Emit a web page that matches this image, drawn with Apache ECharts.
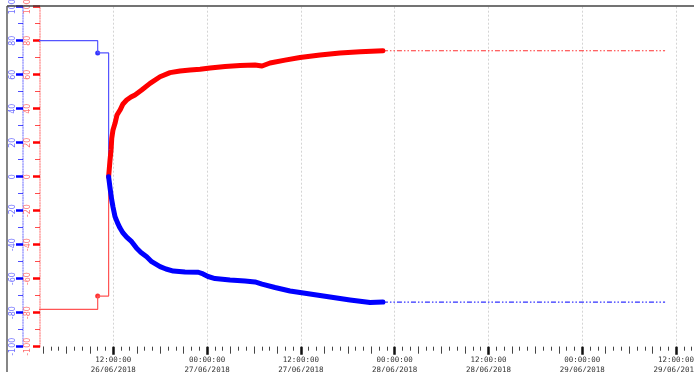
<!DOCTYPE html>
<html><head><meta charset="utf-8">
<script src="https://cdn.jsdelivr.net/npm/echarts@6/dist/echarts.min.js"></script>
<style>html,body{margin:0;padding:0;background:#fff}#c{width:694px;height:372px}</style>
</head><body><div id="c"></div>
<script>
// x values are hours since 00:00 26/06/2018
const xMin = 2.62;
const xMax = 86.3;

const blueStepHours = [2, 10, 11.4];
const blueStepValues = [80, 72.8, 0];
const redStepHours = [2, 10, 11.4];
const redStepValues = [-78, -70.2, 0];

const markerHours = [10];
const blueMarkerValues = [72.8];
const redMarkerValues = [-70.2];

const redCurveHours = [11.4, 11.58, 11.71, 11.8, 11.96, 12.22, 12.47, 12.86, 13.24, 13.71, 14.26, 14.77, 15.63, 16.7, 17.98, 19.26, 20.54, 21.82, 23.1, 24.38, 26.3, 28.22, 30.13, 31.03, 32.05, 33.97, 35.89, 38.45, 41.0, 43.57, 46.5];
const redCurveValues = [0, 9.8, 15.7, 22.6, 27.5, 31.4, 36.3, 39.2, 42.8, 45.1, 46.9, 48.1, 51.0, 54.9, 58.8, 61.2, 62.2, 62.8, 63.2, 63.9, 64.8, 65.4, 65.7, 65.1, 66.9, 68.6, 70.1, 71.6, 72.8, 73.5, 74.1];

const blueCurveHours = [11.4, 11.58, 11.8, 11.96, 12.22, 12.54, 12.86, 13.24, 13.71, 14.35, 14.99, 15.54, 16.27, 16.91, 17.98, 18.74, 19.68, 21.17, 22.88, 23.48, 24.12, 25.01, 26.93, 28.85, 30.13, 31.03, 32.69, 34.61, 37.17, 39.73, 42.29, 44.85, 46.5];
const blueCurveValues = [0, -6.6, -13.7, -17.8, -23.5, -27.2, -30.2, -33.1, -35.6, -38.2, -42.1, -44.6, -47.1, -50.0, -52.9, -54.3, -55.5, -56.1, -56.2, -57.2, -58.7, -59.9, -60.8, -61.4, -61.9, -63.2, -65.2, -67.2, -69.0, -70.8, -72.5, -74.0, -73.7];

const projectionHours = [46.5, 82.6];
const redProjectionValues = [74.1, 74.1];
const blueProjectionValues = [-73.8, -73.8];

const xMajorHours = [12, 24, 36, 48, 60, 72, 84];
const xMajorLabels = ['12:00:00\n26/06/2018', '00:00:00\n27/06/2018', '12:00:00\n27/06/2018', '00:00:00\n28/06/2018', '12:00:00\n28/06/2018', '00:00:00\n29/06/2018', '12:00:00\n29/06/2018'];

const hourTicks = [];
for (let h = 3; h <= 86; h++) hourTicks.push(h);
const threeHourTicks = hourTicks.filter(h => h % 3 === 0);

const zip = (a, b) => a.map((v, i) => [v, b[i]]);

const chart = echarts.init(document.getElementById('c'), null, {renderer: 'canvas'});

const xBase = {type: 'value', min: xMin, max: xMax, position: 'bottom', offset: 0,
  axisLine: {show: false, onZero: false}, splitLine: {show: false}, axisLabel: {show: false}};

function yAxisCfg(main, light, offset, margin) {
  return {
    type: 'value', min: -100, max: 100, interval: 20, position: 'left', offset: offset,
    axisLine: {show: true, lineStyle: {color: light, width: 1.5, type: [1, 1.6], opacity: 0.7}},
    axisTick: {show: true, length: 7, lineStyle: {color: main, width: 2.5}},
    minorTick: {show: true, splitNumber: 2, length: 5, lineStyle: {color: main, width: 1, opacity: 0.7}},
    axisLabel: {rotate: 90, margin: margin, color: light, fontSize: 8, fontFamily: 'DejaVu Sans'},
    splitLine: {show: false}
  };
}

chart.setOption({
  animation: false,
  grid: {left: 40, right: 0, top: 6.7, bottom: 25.3, containLabel: false, outerBoundsMode: 'none'},
  xAxis: [
    Object.assign({}, xBase, {axisTick: {show: true, customValues: hourTicks, length: 4, lineStyle: {color: '#444', width: 1}}}),
    Object.assign({}, xBase, {axisTick: {show: true, customValues: threeHourTicks, length: 7, lineStyle: {color: '#444', width: 1}}}),
    Object.assign({}, xBase, {
      axisTick: {show: true, customValues: xMajorHours, length: 8, lineStyle: {color: '#111', width: 2.5}},
      axisLabel: {show: true, customValues: xMajorHours, margin: 8, color: '#333', fontSize: 7.5, lineHeight: 10.5,
        fontFamily: 'DejaVu Sans Mono', formatter: v => xMajorLabels[xMajorHours.indexOf(Math.round(v))] || ''},
      splitLine: {show: true, lineStyle: {color: '#d4d4d4', width: 1, type: [2, 2]}}
    })
  ],
  yAxis: [
    yAxisCfg('#0000ff', '#7070ff', 17, 6),
    yAxisCfg('#ff0000', '#ff7070', 0, 8)
  ],
  graphic: [
    {type: 'line', shape: {x1: 7, y1: 6, x2: 694, y2: 6}, style: {stroke: '#444', lineWidth: 1.3}, z: 10},
    {type: 'line', shape: {x1: 7, y1: 6, x2: 7, y2: 372}, style: {stroke: '#444', lineWidth: 1.3}, z: 10}
  ],
  series: [
    {type: 'line', step: 'end', data: zip(redStepHours, redStepValues), symbol: 'none',
      lineStyle: {color: '#ff5555', width: 1.2}, yAxisIndex: 1},
    {type: 'line', step: 'end', data: zip(blueStepHours, blueStepValues), symbol: 'none',
      lineStyle: {color: '#5555ff', width: 1.2}},
    {type: 'scatter', data: zip(markerHours, redMarkerValues), symbol: 'circle', symbolSize: 5,
      itemStyle: {color: '#ff0000'}, yAxisIndex: 1},
    {type: 'scatter', data: zip(markerHours, blueMarkerValues), symbol: 'circle', symbolSize: 5,
      itemStyle: {color: '#0000ff'}},
    {type: 'line', data: zip(projectionHours, redProjectionValues), symbol: 'none', yAxisIndex: 1,
      lineStyle: {color: '#ff3030', width: 1.2, type: [5, 2, 1.5, 2, 1.5, 2]}},
    {type: 'line', data: zip(projectionHours, blueProjectionValues), symbol: 'none',
      lineStyle: {color: '#3030ff', width: 1.2, type: [5, 2, 1.5, 2, 1.5, 2]}},
    {type: 'line', data: zip(redCurveHours, redCurveValues), symbol: 'none', yAxisIndex: 1,
      lineStyle: {color: '#ff0000', width: 5, cap: 'round', join: 'round'}},
    {type: 'line', data: zip(blueCurveHours, blueCurveValues), symbol: 'none',
      lineStyle: {color: '#0000ff', width: 5, cap: 'round', join: 'round'}}
  ]
});
</script></body></html>
